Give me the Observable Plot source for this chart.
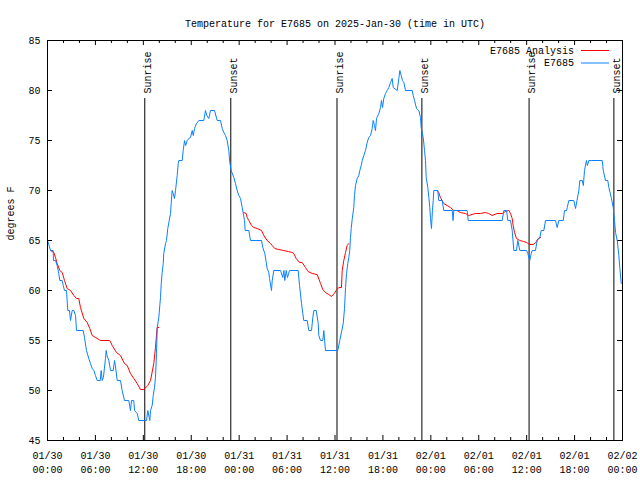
<!DOCTYPE html>
<html><head><meta charset="utf-8">
<script src="https://cdn.jsdelivr.net/npm/d3@7"></script>
<script src="https://cdn.jsdelivr.net/npm/@observablehq/plot@0.6"></script>
<style>html,body{margin:0;padding:0;background:#fff}svg{display:block}</style>
</head><body><div id="chart"></div>
<script>
const titleText = "Temperature for E7685 on 2025-Jan-30 (time in UTC)";
const yLabelText = "degrees F";
const startUTC = Date.UTC(2025, 0, 30);
const seriesNames = ["E7685 Analysis", "E7685"];
const seriesColors = ["#ff0000", "#0a80ff"];
const yTicks = [45, 50, 55, 60, 65, 70, 75, 80, 85];
const majorTickHours = [0, 6, 12, 18, 24, 30, 36, 42, 48, 54, 60, 66, 72];
const minorTickHours = [2, 4, 8, 10, 14, 16, 20, 22, 26, 28, 32, 34, 38, 40, 44, 46, 50, 52, 56, 58, 62, 64, 68, 70];
const sunriseHours = [12.18, 36.25, 60.3];
const sunsetHours = [22.95, 46.88, 70.92];

// observations [hours since 01/30 00:00 UTC, degrees F]
const obsPoints = [
[0,65],[0.16,64.6],[0.38,64],[0.71,64],[0.75,63],[1.0,63],[1.21,62.5],[1.41,61.7],[1.54,61],[1.84,61],
[1.97,60.5],[2.13,60],[2.38,60],[2.54,58],[2.75,58],[2.88,57],[3.09,58],[3.3,58],[3.51,57.5],[3.63,56],
[4.47,56],[4.63,55.3],[4.88,54],[5.17,53.2],[5.38,52.7],[5.6,52.2],[5.8,52],[6.01,51.5],[6.22,51],[6.6,51],
[6.72,52],[6.85,51],[7.0,51.3],[7.26,53.2],[7.35,54],[7.45,53.5],[7.68,53],[7.89,52],[8.23,52],[8.39,53],
[8.5,52.5],[8.73,51],[9.14,51],[9.35,50],[9.64,49],[10.18,49],[10.39,48],[10.52,49],[10.8,49],[10.9,48],
[11.23,47.7],[11.43,47],[12.4,47],[12.56,48],[12.81,47],[12.9,48],[13.11,48.5],[13.24,49.5],[13.4,50.3],[13.52,51.3],
[13.65,53.7],[13.74,56.3],[13.94,57.3],[14.06,58.5],[14.15,59.3],[14.24,60.7],[14.36,61.8],[14.49,62.7],[14.56,63.7],[14.78,64.7],
[14.9,65],[15.06,66.2],[15.24,67],[15.4,67.7],[15.49,68.7],[15.61,70],[15.74,69.7],[15.9,69.2],[16.03,70],[16.24,71.5],
[16.37,72.7],[16.44,73],[16.87,73],[16.99,74],[17.16,75],[17.3,74.5],[17.49,75],[17.69,75.2],[17.91,75.3],[18.12,76],
[18.25,75.5],[18.41,76.2],[18.66,76.7],[18.95,77],[19.57,77],[19.78,78],[19.95,77.5],[20.2,77.2],[20.41,78],[20.91,78],
[21.25,77],[21.66,77],[21.88,76.2],[22.08,75.8],[22.29,75.5],[22.5,75],[22.7,74],[22.83,72.8],[23.0,72],[23.33,71.3],
[23.54,70.7],[23.75,70],[23.95,69.5],[24.17,69.2],[24.38,68.3],[24.67,67],[24.75,66],[25.21,66],[25.42,65],[26.8,65],
[26.96,64.3],[27.21,63.7],[27.39,62.8],[27.51,62.2],[27.71,61.8],[27.8,61.2],[28.05,60],[28.14,61],[28.34,62],[29.18,62],
[29.46,61.3],[29.6,62],[29.71,61],[29.89,62],[30.05,61.3],[30.3,62],[31.39,62],[31.56,60.5],[31.81,58.7],[31.97,57.7],
[32.09,57],[32.52,57],[32.72,56],[33.06,56],[33.22,57.3],[33.35,58],[33.65,58],[33.9,56.7],[33.97,55.5],[34.19,55],
[34.47,55],[34.6,56],[34.7,55],[34.81,54],[36.35,54],[36.6,55],[37.03,56.7],[37.19,58.2],[37.32,60.3],[37.44,61.7],
[37.6,62.7],[37.73,63.3],[37.85,64],[37.94,65.3],[38.03,66.2],[38.15,67.1],[38.35,68.3],[38.44,69.5],[38.57,70.5],[38.78,71.2],
[38.98,71.5],[39.11,72],[39.28,72.5],[39.41,73],[39.61,73.5],[39.82,74],[40.03,74.8],[40.23,75.3],[40.45,75.5],[40.66,76.2],
[40.78,77],[40.95,76.5],[41.07,76],[41.2,77.2],[41.49,77.7],[41.7,78.3],[41.82,79],[41.95,78.3],[42.11,79.2],[42.32,79.7],
[42.54,80],[42.74,80.3],[42.95,80.8],[43.16,81.2],[43.29,80.3],[43.79,80],[43.99,81.2],[44.12,82],[44.29,81.5],[44.45,81],
[44.62,80.8],[44.83,80],[45.67,80],[45.79,79.5],[45.96,79],[46.21,78.2],[46.49,78],[46.71,77.3],[46.79,76.3],[47.05,75.3],
[47.21,74],[47.33,73],[47.42,71.3],[47.62,70.3],[47.75,69.3],[47.87,68.3],[47.96,67.2],[48.08,66.2],[48.2,68],[48.3,69],
[48.37,70],[48.87,70],[48.99,69],[49.42,69],[49.62,68],[50.68,68],[50.78,67],[50.88,68],[52.55,68],[52.68,67],
[56.94,67],[57.14,68],[57.48,68],[57.64,67],[57.98,67],[58.19,66],[58.39,64],[58.73,64],[58.89,65],[59.14,64],
[59.98,64],[60.14,63.7],[60.39,63],[60.57,63.7],[60.69,64],[61.1,64],[61.32,65],[61.65,65.3],[61.82,66],[62.15,66],
[62.36,67],[63.61,67],[63.82,66.3],[64.03,67],[64.58,67],[64.74,68],[65.0,68],[65.08,68.3],[65.28,69],[65.9,69],
[66.12,68.2],[66.3,69],[66.53,70],[66.66,71],[66.96,71],[67.1,70.5],[67.24,72],[67.49,73],[67.6,72.5],[67.78,73],
[68.08,73],[69.46,73],[69.59,72],[69.87,71],[70.16,71],[70.29,70.3],[70.59,69.3],[70.84,68.3],[71.0,67],[71.13,65.8],
[71.34,65],[71.54,63.5],[71.66,62.3],[71.84,60.7]
];

// analysis segments [hours, degrees F]
const anaSeg1 = [
[0.38,64],[0.79,63.8],[1.0,63.3],[1.21,62.7],[1.54,62],[1.84,61.8],[2.13,61],[2.46,60.2],[2.88,60],[3.3,59.5],
[3.63,59.2],[3.92,59.2],[4.13,58.3],[4.55,57.2],[4.97,56.8],[5.3,56.2],[5.6,55.5],[6.01,55.3],[6.64,55],[7.8,55],
[8.1,54.5],[8.64,53.8],[9.14,53.5],[9.64,52.7],[9.98,52.5],[10.39,51.7],[10.81,51.2],[11.23,50.7],[11.64,50.1],[12.06,50.1],
[12.56,50.5],[12.9,51],[13.31,52.7],[13.52,54.3],[13.73,56.3],[13.94,56.3]
];
const anaSeg2 = [
[24.58,67.8],[24.88,67.7],[25.0,67.3],[25.21,67],[25.55,66.5],[25.84,66.3],[26.26,66.2],[26.8,66],[27.09,65.5],[27.51,65],
[27.92,64.7],[28.14,64.5],[28.46,64.2],[28.96,64.1],[29.58,64],[30.14,63.9],[30.64,63.8],[30.84,63.7],[31.14,63.2],[31.56,62.8],
[31.89,62.8],[32.3,62.3],[32.64,61.9],[33.14,61.7],[33.77,61.6],[34.19,60.7],[34.47,60.1],[34.81,59.8],[35.22,59.6],[35.56,59.4],
[35.9,59.7],[36.15,60],[36.48,60.3],[36.81,60.3],[36.9,62],[37.1,63],[37.32,63.8],[37.52,64.5],[37.73,64.7]
];
const anaSeg3 = [
[48.6,70],[48.79,70],[48.99,69.8],[49.2,69.3],[49.62,68.7],[50.04,68.5],[50.45,68.3],[50.87,68],[51.29,68],[51.7,67.8],
[52.33,67.7],[52.75,67.5],[53.17,67.6],[53.59,67.7],[54.21,67.7],[54.84,67.8],[55.25,67.7],[55.67,67.5],[56.3,67.7],[56.94,67.7],
[57.35,67.9],[57.77,68],[57.98,67.7],[58.19,67.2],[58.31,66.5],[58.48,65.8],[58.73,65.2],[59.14,65],[59.6,64.9],[60.0,64.8],
[60.39,64.6],[60.81,64.6],[61.14,64.8],[61.43,65.2],[61.73,65.3]
];

const toDate = h => new Date(startUTC + h * 3600e3);
const obs = obsPoints.map(([h, v]) => ({t: toDate(h), v}));
const ana = [anaSeg1, anaSeg2, anaSeg3].flatMap((seg, i) =>
  (i ? [{t: null, v: null}] : []).concat(seg.map(([h, v]) => ({t: toDate(h), v}))));

const W = 640, H = 480, mL = 47, mR = 18, mT = 40, mB = 40;
const fw = W - mL - mR, fh = H - mT - mB;
const fmtDay = d3.utcFormat("%m/%d"), fmtTime = d3.utcFormat("%H:%M");

const legendMark = () => {
  const g = d3.create("svg:g").attr("font-size", 10);
  seriesNames.forEach((name, i) => {
    const y = mT + 10.5 + i * 12.5;
    g.append("text").attr("x", W - mR - 48).attr("y", y).attr("dy", "0.32em")
      .attr("text-anchor", "end").attr("fill", "#000").text(name);
    g.append("line").attr("x1", W - mR - 41).attr("x2", W - mR - 13)
      .attr("y1", y).attr("y2", y).attr("stroke", seriesColors[i]).attr("stroke-width", 1);
  });
  return g.node();
};

const chart = Plot.plot({
  width: W, height: H,
  marginLeft: mL, marginRight: mR, marginTop: mT, marginBottom: mB,
  style: {fontFamily: "'Liberation Mono', 'DejaVu Sans Mono', monospace", fontSize: "10px", background: "#fff", color: "#000"},
  x: {type: "utc", domain: [toDate(0), toDate(72)]},
  y: {domain: [45, 85]},
  marks: [
    Plot.ruleY(yTicks, {insetRight: fw - 5, stroke: "#000"}),
    Plot.ruleY(yTicks, {insetLeft: fw - 5, stroke: "#000"}),
    Plot.ruleX(majorTickHours.map(toDate), {insetTop: fh - 5, stroke: "#000"}),
    Plot.ruleX(majorTickHours.map(toDate), {insetBottom: fh - 5, stroke: "#000"}),
    Plot.ruleX(minorTickHours.map(toDate), {insetTop: fh - 3, stroke: "#000"}),
    Plot.ruleX(minorTickHours.map(toDate), {insetBottom: fh - 3, stroke: "#000"}),
    Plot.axisY({ticks: yTicks, tickSize: 0, tickPadding: 7, label: null}),
    Plot.axisX({ticks: majorTickHours.map(toDate), tickSize: 0, tickPadding: 9, lineHeight: 1.4,
      tickFormat: d => fmtDay(d) + "\n" + fmtTime(d), label: null}),
    Plot.ruleX(sunriseHours.concat(sunsetHours).map(toDate), {insetTop: 58, stroke: "#000"}),
    Plot.text(sunriseHours.map(toDate), {x: d => d, frameAnchor: "top", dy: 53, dx: -1, rotate: -90,
      textAnchor: "start", text: () => "Sunrise", fill: "#000"}),
    Plot.text(sunsetHours.map(toDate), {x: d => d, frameAnchor: "top", dy: 53, dx: -1, rotate: -90,
      textAnchor: "start", text: () => "Sunset", fill: "#000"}),
    Plot.line(ana, {x: "t", y: "v", stroke: seriesColors[0], strokeWidth: 1}),
    Plot.line(obs, {x: "t", y: "v", stroke: seriesColors[1], strokeWidth: 1}),
    Plot.frame({stroke: "#000"}),
    Plot.text([titleText], {frameAnchor: "top", dy: -21, text: d => d, fill: "#000"}),
    Plot.text([yLabelText], {frameAnchor: "left", dx: -37, rotate: -90, text: d => d, fill: "#000"}),
    legendMark
  ]
});
document.getElementById("chart").appendChild(chart);
</script>
</body></html>
